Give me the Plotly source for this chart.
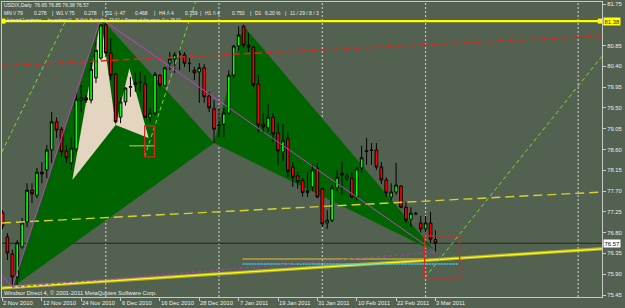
import plotly.graph_objects as go

# ---------------- data (bar index 0 = 2 Nov 2010) ----------------
opens = [77.23, 76.71, 76.34, 75.84, 76.49, 77.03, 77.72, 77.61, 78.11, 78.16,
         78.59, 79.20, 79.04, 78.57, 78.31, 78.61, 79.67, 79.72, 79.67, 80.15,
         80.58, 81.30, 80.69, 80.23, 79.30, 79.63, 79.95, 80.00, 80.06, 80.02,
         79.30, 79.39, 80.21, 79.98, 80.47, 80.56, 80.67, 80.65, 80.47, 80.32,
         80.28, 80.37, 79.76, 79.48, 79.13, 79.15, 79.39, 80.21, 80.84, 81.27,
         80.86, 80.82, 80.02, 79.15, 79.07, 79.30, 78.96, 78.55, 78.83, 78.22,
         78.03, 77.93, 77.67, 77.79, 78.18, 77.75, 77.01, 77.07, 77.77, 78.09,
         77.98, 77.98, 77.57, 78.20, 78.57, 78.59, 78.59, 78.22, 77.94, 77.57,
         77.68, 77.81, 77.35, 77.09, 77.22, 77.01, 76.88, 77.01, 76.65]
highs = [77.29, 76.79, 76.43, 76.64, 77.12, 77.87, 77.87, 78.20, 78.33, 78.70,
         79.41, 79.30, 79.09, 78.70, 78.87, 79.85, 80.00, 79.78, 80.54, 80.93,
         81.44, 81.34, 81.01, 80.26, 79.72, 79.95, 80.17, 80.26, 80.28, 80.21,
         79.50, 80.28, 80.23, 80.39, 80.71, 80.71, 80.78, 80.71, 80.58, 80.39,
         80.47, 80.45, 79.85, 79.67, 79.50, 79.50, 80.32, 80.86, 81.27, 81.30,
         81.12, 80.84, 80.21, 79.39, 79.59, 79.39, 79.17, 79.15, 78.98, 78.33,
         78.11, 77.98, 78.11, 78.27, 78.31, 77.77, 77.29, 77.83, 78.16, 78.33,
         78.09, 78.11, 78.22, 78.68, 78.85, 78.74, 78.74, 78.33, 78.00, 77.87,
         78.31, 77.83, 77.46, 77.35, 77.25, 77.16, 77.16, 77.25, 76.85]
lows = [76.88, 76.21, 75.62, 75.67, 76.45, 76.92, 77.44, 77.55, 77.87, 77.98,
        78.31, 78.85, 78.44, 78.31, 78.16, 78.55, 79.41, 79.61, 79.60, 80.04,
        80.54, 80.60, 80.10, 79.17, 79.17, 79.55, 79.74, 79.85, 79.85, 79.28,
        79.20, 79.35, 79.95, 79.95, 80.32, 80.26, 80.32, 80.39, 80.28, 80.10,
        79.61, 79.61, 79.41, 78.74, 78.87, 78.87, 79.35, 80.15, 80.75, 80.80,
        80.71, 79.95, 78.98, 78.96, 78.98, 78.76, 78.27, 78.35, 78.00, 77.79,
        77.75, 77.58, 77.57, 77.70, 77.55, 76.92, 76.88, 77.03, 77.70, 77.62,
        77.92, 77.55, 77.50, 78.10, 78.27, 78.27, 78.16, 77.85, 77.57, 77.50,
        77.62, 77.33, 77.01, 76.92, 77.18, 76.80, 76.80, 76.58, 76.38]
closes = [76.94, 76.36, 75.84, 76.58, 77.01, 77.72, 77.64, 78.11, 78.07, 78.59,
          79.20, 79.02, 78.55, 78.42, 78.63, 79.69, 79.72, 79.67, 80.34, 80.75,
          81.30, 80.69, 80.21, 79.20, 79.63, 79.93, 79.96, 80.05, 80.05, 79.30,
          79.39, 80.23, 80.00, 80.37, 80.56, 80.65, 80.66, 80.47, 80.46, 80.26,
          80.37, 79.74, 79.50, 79.04, 79.12, 79.39, 80.21, 80.84, 81.08, 80.86,
          80.82, 80.00, 79.13, 79.09, 79.30, 78.94, 78.57, 78.79, 78.13, 78.00,
          77.90, 77.67, 77.71, 78.16, 77.57, 76.99, 77.07, 77.77, 78.00, 78.05,
          78.03, 77.57, 78.18, 78.42, 78.56, 78.58, 78.22, 77.94, 77.66, 77.68,
          77.83, 77.35, 77.07, 77.22, 77.21, 76.88, 77.01, 76.66, 76.57]

date_tick_idx = [0, 8, 16, 24, 32, 40, 48, 56, 64, 72, 80, 88]
date_tick_labels = ["2 Nov 2010", "12 Nov 2010", "24 Nov 2010", "6 Dec 2010",
                    "16 Dec 2010", "28 Dec 2010", "7 Jan 2011", "19 Jan 2011",
                    "31 Jan 2011", "10 Feb 2011", "22 Feb 2011", "3 Mar 2011"]
price_ticks = [75.45, 75.90, 76.35, 76.80, 77.25, 77.70, 78.15, 78.60,
               79.05, 79.50, 79.95, 80.40, 80.85, 81.30, 81.75]
separator_idx = [21, 44, 65, 86, 117]

# harmonic pattern points X, A, B, C, D
big_px = [2, 20, 43, 49, 88]
big_py = [75.62, 81.44, 78.74, 81.28, 76.38]
small_px = [14.2, 20, 23, 25.8, 29.7]
small_py = [77.94, 81.44, 79.13, 80.36, 78.85]

# trend lines / objects  (bar index, price)
top_line_x, top_line_y = [0.1, 121.5], [81.38, 81.38]
red_dash_x, red_dash_y = [-0.1, 121.85], [80.41, 81.06]
yel_dash_x, yel_dash_y = [-0.1, 121.85], [77.01, 77.68]
yel_solid_x, yel_solid_y = [-0.1, 121.85], [75.60, 76.45]
lime1_x, lime1_y = [-0.1, 12.7], [78.55, 81.36]
lime2_x, lime2_y = [28.9, 39.2], [78.44, 81.79]
lime3_x, lime3_y = [85.8, 121.85], [75.82, 80.62]
rect_small_x, rect_small_y = [28.9, 30.9], [78.44, 79.11]
rect_big_x, rect_big_y = [85.8, 92.9], [75.82, 76.73]
short_line_x, short_line_y = [25.8, 30.9], [78.68, 78.68]
olive_h_x, olive_h_y = [48.8, 86.0], [76.23, 76.23]
cyan_h_x, cyan_h_y = [48.8, 92.7], [76.12, 76.12]
mag_extra_x, mag_extra_y = [-0.1, 2], [75.87, 75.62]
last_price = 76.57
level_price = 81.38

# ---------------- layout constants ----------------
W, H = 625, 308
ML, MR, MT, MB = 2, 23, 2, 11
PW, PH = W - ML - MR, H - MT - MB
X0, X1 = -0.1, 121.85
Y0, Y1 = 75.407, 81.794
BG = "#52614e".replace("e", "") if False else "#536250"
FONT = "Liberation Sans"
TXT = "#ececec"


def pxp(x):
    return (x - ML) / PW


def pyp(y):
    return 1 - (y - MT) / PH


fig = go.Figure()
shapes = []


def tri(xs, ys, color):
    path = "M {},{} L {},{} L {},{} Z".format(xs[0], ys[0], xs[1], ys[1], xs[2], ys[2])
    shapes.append(dict(type="path", path=path, xref="x", yref="y",
                       fillcolor=color, line=dict(width=0), layer="below"))


def line(xs, ys, color, width=1, dash="solid"):
    fig.add_trace(go.Scatter(x=xs, y=ys, mode="lines",
                             line=dict(color=color, width=width, dash=dash),
                             hoverinfo="skip", showlegend=False))


# green triangles XAB and BCD (below the candles)
tri(big_px[0:3], big_py[0:3], "#006400")
tri(big_px[2:5], big_py[2:5], "#006400")
# beige triangles
tri(small_px[0:3], small_py[0:3], "#e4d5c0")
tri(small_px[2:5], small_py[2:5], "#e4d5c0")

# period separators
for s in separator_idx:
    shapes.append(dict(type="line", x0=s, x1=s, y0=0, y1=1, xref="x", yref="paper",
                       line=dict(color="#d4d4d4", width=1, dash="2px,2px"),
                       layer="below"))

# current price line (behind candles)
shapes.append(dict(type="line", x0=0, x1=1, y0=last_price, y1=last_price,
                   xref="paper", yref="y", line=dict(color="#1c2a1c", width=1),
                   layer="below"))

# candles
fig.add_trace(go.Candlestick(
    x=list(range(len(opens))), open=opens, high=highs, low=lows, close=closes,
    increasing=dict(fillcolor="#00ff00", line=dict(color="#000000", width=1)),
    decreasing=dict(fillcolor="#ff0000", line=dict(color="#000000", width=1)),
    whiskerwidth=0, hoverinfo="skip", showlegend=False))

# trend lines
line(red_dash_x, red_dash_y, "#d42a1e", 1.5, "7px,4px")
line(yel_dash_x, yel_dash_y, "#d6d22a", 1.4, "9px,5px")
line(yel_solid_x, yel_solid_y, "#a8a63e", 3.5)
line(yel_solid_x, yel_solid_y, "#ffff00", 1.3)
line(lime1_x, lime1_y, "#80d830", 1, "4px,3px")
line(lime2_x, lime2_y, "#80d830", 1, "4px,3px")
line(lime3_x, lime3_y, "#80d830", 1, "4px,3px")
line(olive_h_x, olive_h_y, "#b4a040", 1.3)
line(cyan_h_x, cyan_h_y, "#38d0ff", 1.4, "2px,1px")
line(short_line_x, short_line_y, "#c8b428", 1.2)

# magenta pattern lines
line([big_px[0], big_px[1]], [big_py[0], big_py[1]], "#c83cc8", 1)
line([big_px[1], big_px[4]], [big_py[1], big_py[4]], "#c83cc8", 1)
line([big_px[0], big_px[4]], [big_py[0], big_py[4]], "#a040a8", 1.3, "3px,3px")
line(mag_extra_x, mag_extra_y, "#c83cc8", 1)

# rectangles
line([rect_small_x[0], rect_small_x[1], rect_small_x[1], rect_small_x[0], rect_small_x[0]],
     [rect_small_y[0], rect_small_y[0], rect_small_y[1], rect_small_y[1], rect_small_y[0]],
     "#d02a22", 1.3)
line([rect_big_x[0], rect_big_x[1], rect_big_x[1], rect_big_x[0], rect_big_x[0]],
     [rect_big_y[0], rect_big_y[0], rect_big_y[1], rect_big_y[1], rect_big_y[0]],
     "#d02a22", 1.3)

# top level line with end markers
line(top_line_x, top_line_y, "#ffff00", 2.2)
fig.add_trace(go.Scatter(x=top_line_x, y=top_line_y, mode="markers",
                         marker=dict(symbol="square", size=5, color="#ffff00"),
                         hoverinfo="skip", showlegend=False))

ann = []
# header texts
ann.append(dict(text="USDIX,Daily  76.65 76.85 76.38 76.57", x=pxp(3), y=pyp(5),
                size=5))
seg2 = [(2, "MN \\/ 79"), (32, "0.278"), (50, "|"), (54, "W1 \\/ 75"),
        (82, "0.278"), (100, "|"), (104, "D1 -|- 47"), (133, "0.468"),
        (152, "|"), (157, "H4 /\\ 4"), (183, "0.759"), (198, "|"),
        (203, "H1 /\\ 4"), (230, "0.750"), (248, "|"), (253, "D1"),
        (263, "6.20 %"), (283, "|"), (288, "11 / 29 / 8 / 3")]
for xx, tt in seg2:
    ann.append(dict(text=tt, x=pxp(xx + 1), y=pyp(13), size=5))
ann.append(dict(text="It found 1 patterns  -  for pattern D - Bullish Butterfly - 73.62 < Range of the price: D < 78.05",
                x=pxp(6), y=pyp(19.5), size=4.3))
ann.append(dict(text="Windsor Direct 4, \u00a9 2001-2011 MetaQuotes Software Corp.",
                x=pxp(3), y=pyp(293), size=5.8))

annotations = []
for a in ann:
    annotations.append(dict(text=a["text"], x=a["x"], y=a["y"], xref="paper",
                            yref="paper", xanchor="left", yanchor="middle",
                            showarrow=False, borderpad=0,
                            font=dict(family=FONT, size=a["size"], color=TXT)))
# date labels
for i, lab in zip(date_tick_idx, date_tick_labels):
    annotations.append(dict(text=lab, x=i, y=pyp(302.5), xref="x", yref="paper",
                            xanchor="left", yanchor="middle", xshift=0,
                            showarrow=False, borderpad=0,
                            font=dict(family=FONT, size=5.8, color=TXT)))
# price boxes
annotations.append(dict(text=f"{level_price:.2f}", x=1, y=level_price, xref="paper",
                        yref="y", xanchor="left", yanchor="middle", xshift=1,
                        showarrow=False, bgcolor="#ffff00", borderpad=0.6,
                        font=dict(family=FONT, size=5.8, color="#303000")))
annotations.append(dict(text=f"{last_price:.2f}", x=1, y=last_price, xref="paper",
                        yref="y", xanchor="left", yanchor="middle", xshift=1,
                        showarrow=False, bgcolor="#ffffff", borderpad=0.6,
                        font=dict(family=FONT, size=5.8, color="#000000")))

# the 81.30 label is covered by the 81.38 price box in the reference
tick_text = ["" if abs(p - 81.30) < 1e-6 else f"{p:.2f}" for p in price_ticks]

fig.update_layout(
    width=W, height=H, margin=dict(l=ML, r=MR, t=MT, b=MB),
    paper_bgcolor=BG, plot_bgcolor=BG, showlegend=False, boxgap=0.22,
    annotations=annotations, shapes=shapes,
    xaxis=dict(range=[X0, X1], tickvals=date_tick_idx, showticklabels=False,
               ticks="outside", ticklen=3, tickcolor="#c8c8c8",
               showgrid=False, zeroline=False, showline=True, mirror=True,
               linecolor="#c8c8c8", linewidth=1,
               rangeslider=dict(visible=False), fixedrange=True),
    yaxis=dict(range=[Y0, Y1], side="right", tickvals=price_ticks,
               ticktext=tick_text,
               ticks="outside", ticklen=3, tickcolor="#c8c8c8",
               tickfont=dict(family=FONT, size=5.8, color=TXT),
               showgrid=False, zeroline=False, showline=True, mirror=True,
               linecolor="#c8c8c8", linewidth=1, fixedrange=True),
)

fig.write_html("out.html")
